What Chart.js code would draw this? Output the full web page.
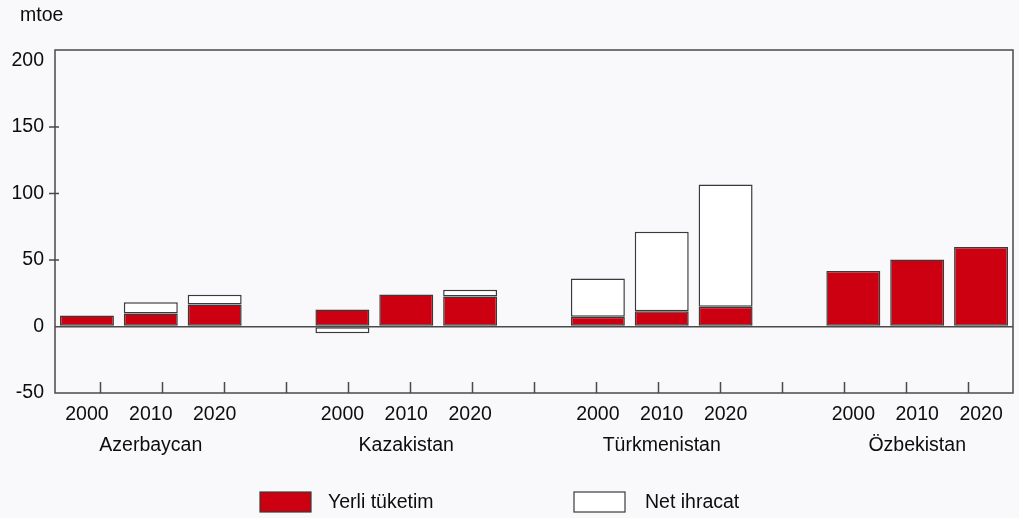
<!DOCTYPE html>
<html><head><meta charset="utf-8">
<script src="https://cdn.jsdelivr.net/npm/chart.js@4.4.1/dist/chart.umd.min.js"></script>
<style>
html,body{margin:0;padding:0;background:#f9f9fb;}
#wrap{position:relative;width:1019px;height:518px;}
</style></head><body>
<div id="wrap"><canvas id="c" width="1019" height="518"></canvas></div>
<script>
const countries = ['Azerbaycan', 'Kazakistan', 'Türkmenistan', 'Özbekistan'];
const years = ['2000', '2010', '2020'];
const yerliTuketim = [8.3, 9.8, 16.6, 12.8, 24.1, 22.6, 7.3, 11.5, 14.8, 41.7, 50.5, 59.8];
const netIhracat = [null, 8.5, 7.3, -5, null, 5, 28.8, 59.8, 92.1, null, null, null];
const yTicks = [-50, 0, 50, 100, 150, 200];
const seriesNames = ['Yerli tüketim', 'Net ihracat'];
const unitLabel = 'mtoe';

const labels = [], d1 = [], d2 = [];
countries.forEach((c, ci) => {
  if (ci > 0) { labels.push(['', '']); d1.push(null); d2.push(null); }
  years.forEach((y, yi) => {
    labels.push([y, yi === 1 ? c : '']);
    d1.push(yerliTuketim[ci * 3 + yi]);
    d2.push(netIhracat[ci * 3 + yi]);
  });
});

const FAMILY = "'Liberation Sans', Arial, sans-serif";
const FS = 19.5;
const TXT = '#0d0d0d';
const LINE = '#4a4a4a';

const framePlugin = {
  id: 'frame',
  afterDraw(chart) {
    const ctx = chart.ctx, a = chart.chartArea;
    ctx.save();
    ctx.strokeStyle = LINE; ctx.lineWidth = 1.5;
    ctx.strokeRect(a.left, a.top, a.right - a.left, a.bottom - a.top);
    // bottom inner ticks
    const n = chart.data.labels.length;
    const x0 = a.left + 45, x1 = a.right - 45;
    ctx.beginPath();
    for (let k = 0; k < n; k++) {
      const x = Math.round(x0 + k * (x1 - x0) / (n - 1)) + 0.5;
      ctx.moveTo(x, a.bottom - 11); ctx.lineTo(x, a.bottom);
    }
    // y crossing ticks
    const ys = chart.scales.y;
    ys.ticks.forEach(t => {
      if (t.value > 0 && t.value < 200) {
        const y = ys.getPixelForValue(t.value);
        ctx.moveTo(a.left - 6, y); ctx.lineTo(a.left + 4, y);
      }
    });
    ctx.stroke();
    // unit label
    ctx.fillStyle = TXT;
    ctx.font = FS + 'px ' + FAMILY;
    ctx.textBaseline = 'alphabetic';
    ctx.textAlign = 'left';
    ctx.fillText(unitLabel, 20, 21);
    // legend
    const items = [{x: 260}, {x: 574}];
    chart.data.datasets.forEach((ds, i) => {
      const bx = items[i].x, by = 492;
      ctx.fillStyle = ds.backgroundColor;
      ctx.fillRect(bx, by, 51, 20);
      ctx.strokeStyle = ds.borderColor; ctx.lineWidth = 1.2;
      ctx.strokeRect(bx, by, 51, 20);
      ctx.fillStyle = TXT;
      ctx.textBaseline = 'middle';
      ctx.fillText(ds.label, bx + 68 + (i === 1 ? 3 : 0), by + 11);
    });
    ctx.restore();
  }
};

new Chart(document.getElementById('c'), {
  type: 'bar',
  data: {
    labels,
    datasets: [
      { label: seriesNames[0], data: d1, backgroundColor: '#cc0010', borderColor: '#3a3a3a', borderWidth: 1.5, borderSkipped: false, barPercentage: 0.845, categoryPercentage: 1 },
      { label: seriesNames[1], data: d2, backgroundColor: '#ffffff', borderColor: '#3a3a3a', borderWidth: 1.5, borderSkipped: false, barPercentage: 0.845, categoryPercentage: 1 }
    ]
  },
  options: {
    responsive: false,
    animation: false,
    layout: { padding: { top: 50, right: 6, bottom: 50, left: 0 } },
    plugins: { legend: { display: false }, tooltip: { enabled: false } },
    scales: {
      x: {
        stacked: true, offset: true,
        grid: { display: false, drawTicks: false },
        border: { display: false },
        ticks: { font: { family: FAMILY, size: FS, lineHeight: 1.6 }, color: TXT, padding: 6, maxRotation: 0, autoSkip: false },
        afterFit(s) { s.height = 75; }
      },
      y: {
        stacked: true, min: -50, max: 208,
        afterBuildTicks(s) { s.ticks = yTicks.map(v => ({ value: v })); },
        ticks: { font: { family: FAMILY, size: FS }, color: TXT, padding: 11 },
        grid: { drawTicks: false, color: c => (c.tick && c.tick.value === 0) ? LINE : 'transparent', lineWidth: 1.5 },
        border: { display: false },
        afterFit(s) { s.width = 55; }
      }
    }
  },
  plugins: [framePlugin]
});
</script>
</body></html>
